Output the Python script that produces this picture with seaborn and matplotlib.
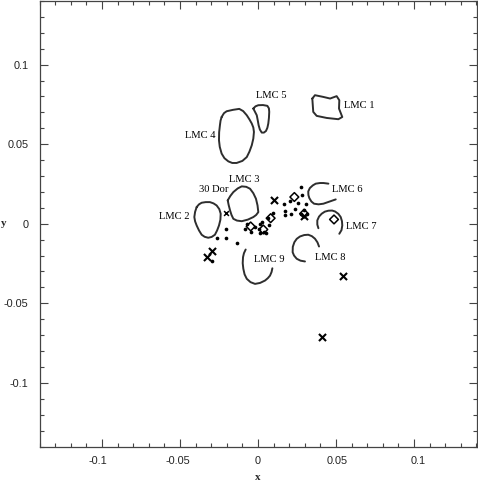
import numpy as np
import pandas as pd
import seaborn as sns
import matplotlib
matplotlib.use("Agg")
import matplotlib.pyplot as plt
from matplotlib.ticker import MultipleLocator
from matplotlib.transforms import ScaledTranslation

# closed contours (x, y in data units)
lmc1_x = [0.0348, 0.0365, 0.0419, 0.0462, 0.0504, 0.0521, 0.0519, 0.0540, 0.0515, 0.0440, 0.0376, 0.0354, 0.0351]
lmc1_y = [0.0787, 0.0808, 0.0797, 0.0787, 0.0802, 0.0776, 0.0724, 0.0671, 0.0657, 0.0665, 0.0678, 0.0703, 0.0745]
lmc2_x = [-0.0393, -0.0378, -0.0361, -0.0335, -0.0308, -0.0285, -0.0265, -0.0248, -0.0239, -0.0241, -0.0250,
          -0.0262, -0.0276, -0.0297, -0.0319, -0.0342, -0.0361, -0.0378, -0.0393, -0.0403, -0.0408, -0.0403]
lmc2_y = [0.0105, 0.0122, 0.0132, 0.0136, 0.0136, 0.0128, 0.0115, 0.0092, 0.0063, 0.0025, -0.0011,
          -0.0042, -0.0069, -0.0083, -0.0088, -0.0082, -0.0069, -0.0042, -0.0011, 0.0015, 0.0042, 0.0075]
lmc3_x = [-0.0194, -0.0177, -0.0158, -0.0130, -0.0104, -0.0075, -0.0051, -0.0030, -0.0013, -0.0003,
          0.0002, -0.0012, -0.0030, -0.0065, -0.0104, -0.0135, -0.0158, -0.0170, -0.0179, -0.0188]
lmc3_y = [0.0147, 0.0175, 0.0199, 0.0222, 0.0235, 0.0232, 0.0220, 0.0192, 0.0157, 0.0115,
          0.0073, 0.0055, 0.0042, 0.0026, 0.0016, 0.0020, 0.0031, 0.0056, 0.0084, 0.0118]
lmc4_x = [-0.0233, -0.0218, -0.0201, -0.0160, -0.0120, -0.0095, -0.0072, -0.0055, -0.0040, -0.0030, -0.0026, -0.0030, -0.0040,
          -0.0055, -0.0072, -0.0100, -0.0137, -0.0165, -0.0190, -0.0215, -0.0233, -0.0245, -0.0250, -0.0249, -0.0244, -0.0240]
lmc4_y = [0.0671, 0.0695, 0.0707, 0.0716, 0.0722, 0.0708, 0.0682, 0.0656, 0.0630, 0.0605, 0.0577, 0.0535, 0.0493,
          0.0453, 0.0419, 0.0395, 0.0382, 0.0382, 0.0392, 0.0412, 0.0441, 0.0483, 0.0525, 0.0575, 0.0619, 0.0648]
lmc5_x = [-0.0030, -0.0016, 0.0002, 0.0032, 0.0060, 0.0070, 0.0072, 0.0070, 0.0066, 0.0060, 0.0051, 0.0038, 0.0024,
          0.0012, 0.0004, -0.0002, -0.0008, -0.0020]
lmc5_y = [0.0724, 0.0738, 0.0745, 0.0746, 0.0741, 0.0725, 0.0703, 0.0665, 0.0630, 0.0603, 0.0583, 0.0573, 0.0573,
          0.0592, 0.0619, 0.0652, 0.0682, 0.0705]

# open arcs
lmc6_x = [0.0451, 0.0420, 0.0397, 0.0370, 0.0351, 0.0332, 0.0322, 0.0323, 0.0329, 0.0342, 0.0359, 0.0388, 0.0419, 0.0460, 0.0498]
lmc6_y = [0.0252, 0.0256, 0.0256, 0.0252, 0.0241, 0.0224, 0.0203, 0.0180, 0.0161, 0.0140, 0.0126, 0.0122, 0.0126, 0.0140, 0.0153]
lmc7_x = [0.0387, 0.0380, 0.0380, 0.0391, 0.0408, 0.0428, 0.0451, 0.0475, 0.0494, 0.0515, 0.0530, 0.0538, 0.0540, 0.0535, 0.0521]
lmc7_y = [-0.0028, -0.0005, 0.0021, 0.0045, 0.0063, 0.0076, 0.0082, 0.0083, 0.0077, 0.0062, 0.0042, 0.0016, -0.0011, -0.0040, -0.0063]
lmc8_x = [0.0301, 0.0272, 0.0248, 0.0231, 0.0222, 0.0223, 0.0233, 0.0248, 0.0269, 0.0296, 0.0322, 0.0345, 0.0365, 0.0381, 0.0391]
lmc8_y = [-0.0237, -0.0232, -0.0220, -0.0200, -0.0179, -0.0145, -0.0116, -0.0095, -0.0080, -0.0071, -0.0069, -0.0078, -0.0094, -0.0117, -0.0143]
lmc9_x = [-0.0079, -0.0090, -0.0096, -0.0098, -0.0094, -0.0086, -0.0072, -0.0048, -0.0019, 0.0013, 0.0045, 0.0063, 0.0077, 0.0087, 0.0092]
lmc9_y = [-0.0162, -0.0185, -0.0210, -0.0248, -0.0283, -0.0318, -0.0346, -0.0367, -0.0378, -0.0372, -0.0357, -0.0342, -0.0326, -0.0303, -0.0280]

cross_x = [-0.0297, -0.0329, 0.0547, 0.0408, 0.0104, 0.0295]
cross_y = [-0.0173, -0.0206, -0.0330, -0.0714, 0.0151, 0.0046]
small_cross_x = [-0.0205]
small_cross_y = [0.0067]
diamond_x = [0.0233, -0.0047, 0.0034, 0.0081, 0.0295, 0.0487]
diamond_y = [0.0168, -0.0017, -0.0036, 0.0035, 0.0063, 0.0027]
dot_x = [0.0276, 0.0284, 0.0167, 0.0205, 0.0258, 0.0308, 0.0237, 0.0210, 0.0173, 0.0173, 0.0098, 0.0066, 0.0028,
         0.0072, -0.0072, -0.0019, 0.0006, 0.0040, -0.0083, 0.0013, -0.0205, -0.0207, -0.0261, -0.0135, -0.0297,
         0.0274, 0.0295, 0.0316, 0.0013, 0.0051, -0.0045]
dot_y = [0.0230, 0.0183, 0.0122, 0.0140, 0.0130, 0.0122, 0.0094, 0.0063, 0.0077, 0.0057, 0.0069, 0.0038, 0.0014,
         -0.0006, 0.0, -0.0021, -0.0031, -0.0053, -0.0030, -0.0004, -0.0031, -0.0088, -0.0088, -0.0124, -0.0236,
         0.0063, 0.0084, 0.0063, -0.0055, -0.0055, -0.0049]

label_names = ["LMC 1", "LMC 2", "LMC 3", "LMC 4", "LMC 5", "LMC 6", "LMC 7", "LMC 8", "LMC 9", "30 Dor"]
label_x = [0.0647, -0.0538, -0.0090, -0.0372, 0.0087, 0.0571, 0.0660, 0.0462, 0.0071, -0.0282]
label_y = [0.0745, 0.0046, 0.0280, 0.0557, 0.0805, 0.0217, -0.0017, -0.0212, -0.0225, 0.0213]

tick_vals = [-0.1, -0.05, 0, 0.05, 0.1]
tick_labels = ["-0.1", "-0.05", "0", "0.05", "0.1"]
xlabel_shift_px = [-4, -2, 0, 1, 4]

closed = [(lmc1_x, lmc1_y), (lmc2_x, lmc2_y), (lmc3_x, lmc3_y), (lmc4_x, lmc4_y), (lmc5_x, lmc5_y)]
arcs = [(lmc6_x, lmc6_y), (lmc7_x, lmc7_y), (lmc8_x, lmc8_y), (lmc9_x, lmc9_y)]

sns.set_style("ticks")
plt.rcParams['font.family'] = ['Liberation Sans', 'DejaVu Sans']

fig = plt.figure(figsize=(4.78, 4.82), dpi=100)
ax = fig.add_axes([39.5 / 478, 1 - 446.5 / 482, 437 / 478, 445.5 / 482])

line_col = "#2e2e2e"
for xs, ys in closed:
    df = pd.DataFrame({"x": xs + xs[:1], "y": ys + ys[:1]})
    sns.lineplot(data=df, x="x", y="y", sort=False, estimator=None, color=line_col, lw=1.4, ax=ax)
for xs, ys in arcs:
    df = pd.DataFrame({"x": xs, "y": ys})
    sns.lineplot(data=df, x="x", y="y", sort=False, estimator=None, color=line_col, lw=1.4, ax=ax)

sns.scatterplot(x=dot_x, y=dot_y, color="black", s=7, linewidth=0, ax=ax)
sns.scatterplot(x=diamond_x, y=diamond_y, marker="D", s=20, facecolor="none", edgecolor="black", linewidth=1.1, ax=ax)
sns.scatterplot(x=cross_x, y=cross_y, marker="x", color="black", s=26, linewidth=1.5, ax=ax)
sns.scatterplot(x=small_cross_x, y=small_cross_y, marker="x", color="black", s=12, linewidth=1.1, ax=ax)

for name, tx, ty in zip(label_names, label_x, label_y):
    ax.text(tx, ty, name, ha="center", va="center", family="Liberation Serif", fontsize=7.6, color="black")

ax.set_xlim(-0.14, 0.14)
ax.set_ylim(-0.14, 0.14)
ax.set_xticks(tick_vals)
ax.set_xticklabels(tick_labels)
ax.set_yticks(tick_vals)
ax.set_yticklabels(tick_labels)
ax.xaxis.set_minor_locator(MultipleLocator(0.01))
ax.yaxis.set_minor_locator(MultipleLocator(0.01))
ax.tick_params(which="major", direction="in", length=5.5, width=0.8, top=True, right=True,
               labelsize=7.8, color="#444444", labelcolor="#222222")
ax.tick_params(which="minor", direction="in", length=2.8, width=0.8, top=True, right=True, color="#444444")
ax.tick_params(axis="x", which="major", pad=7)
ax.tick_params(axis="y", which="major", pad=8)
for lab, shift in zip(ax.get_xticklabels(), xlabel_shift_px):
    lab.set_transform(lab.get_transform() + ScaledTranslation(shift / 100, 0, fig.dpi_scale_trans))
for s in ax.spines.values():
    s.set_linewidth(0.9)
    s.set_color("#444444")

ax.set_xlabel("x", fontweight="bold", fontsize=8, family="Liberation Serif", va="center")
ax.set_ylabel("y", fontweight="bold", fontsize=8, family="Liberation Serif", rotation=0, va="center", ha="center")
ax.xaxis.set_label_coords(0.5, -31 / 445.5)
ax.yaxis.set_label_coords(-36 / 437, 0.5)

fig.savefig("out.png", dpi=100)
